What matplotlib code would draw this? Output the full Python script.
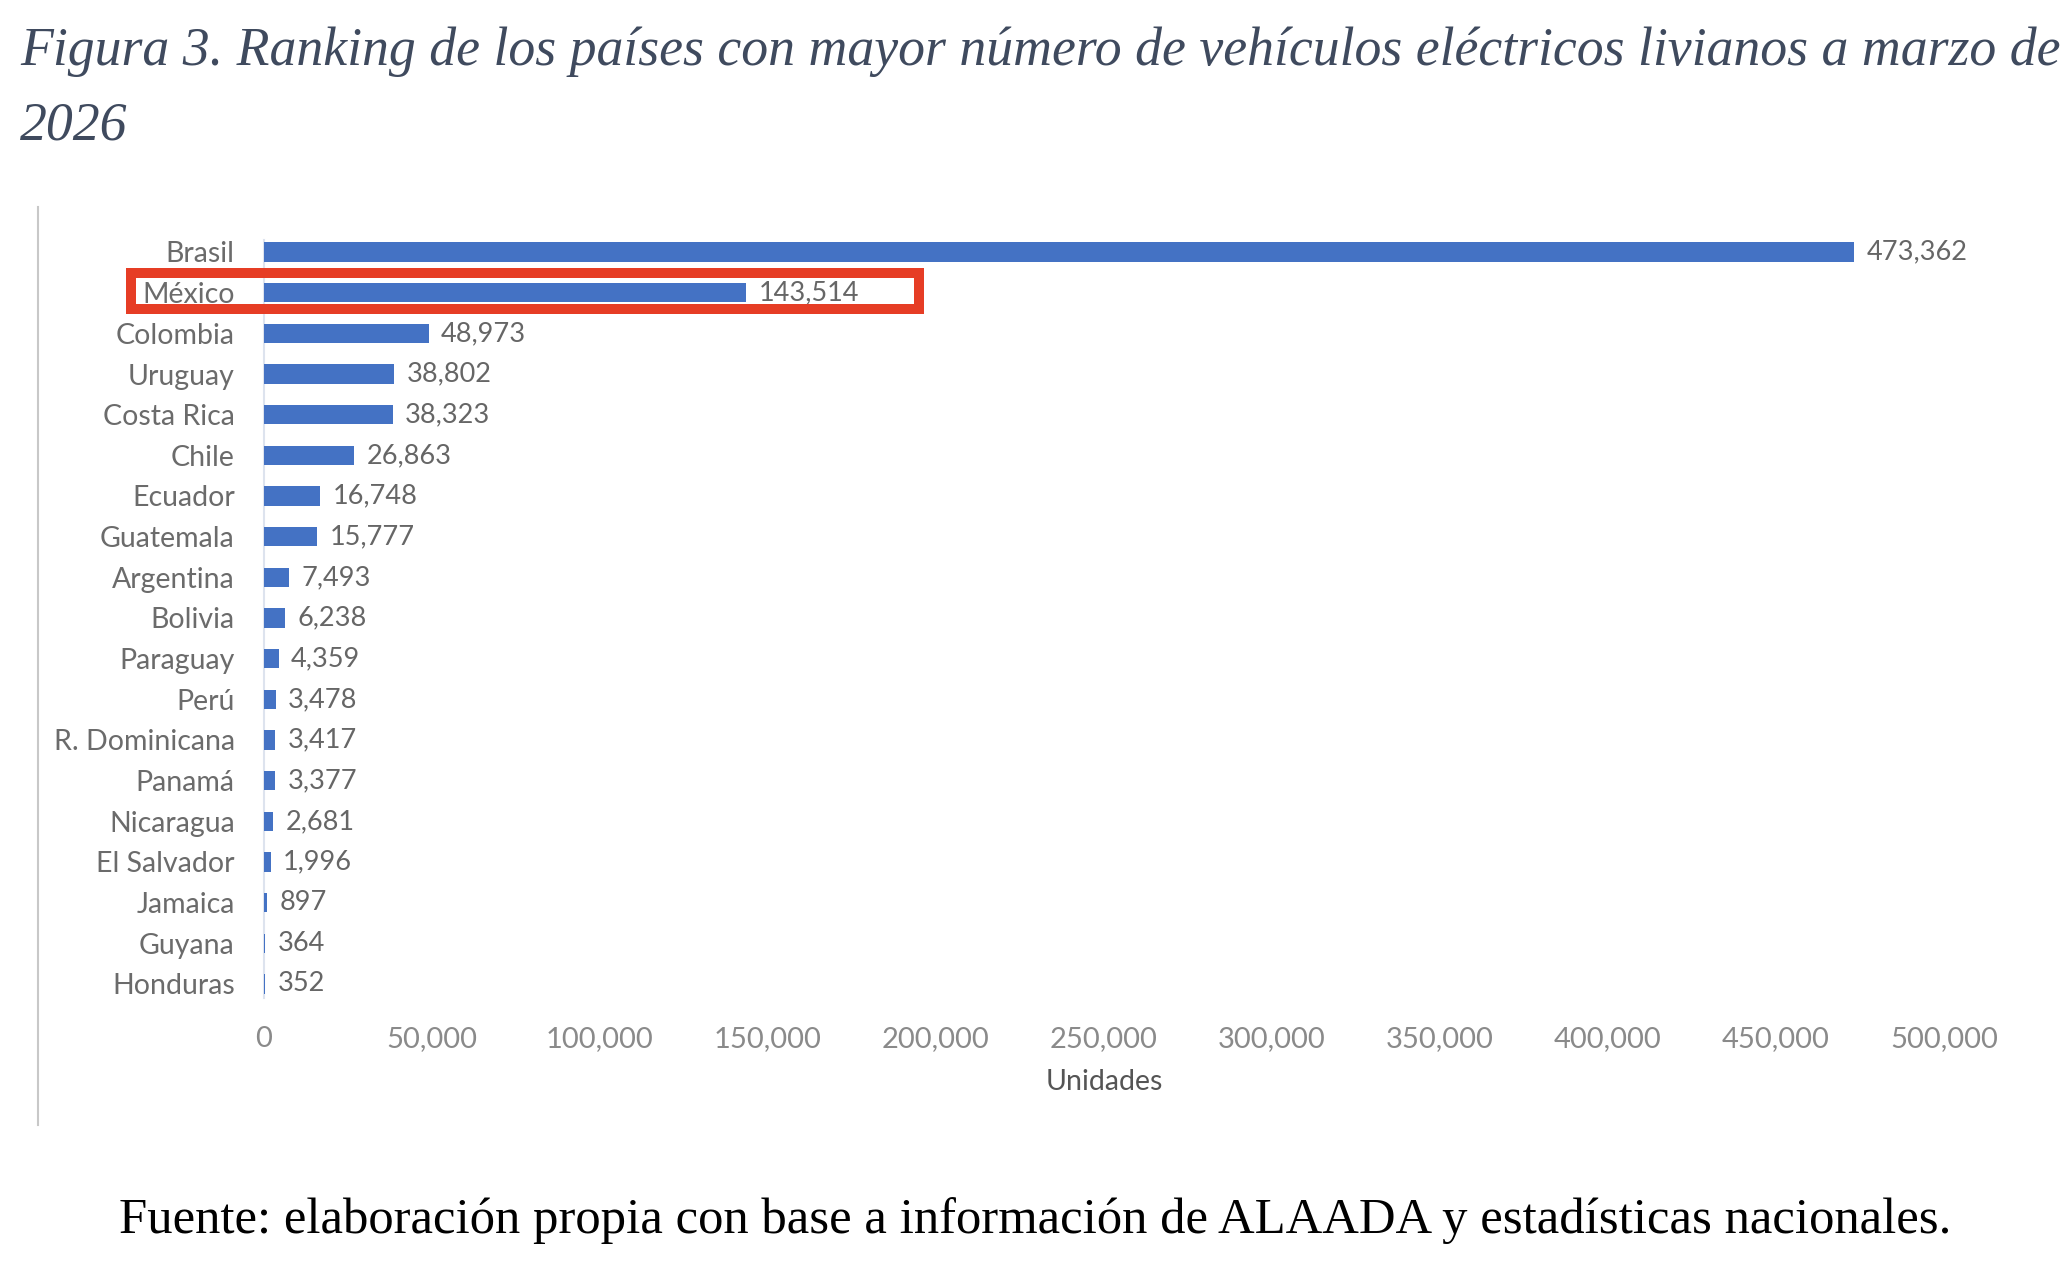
import matplotlib
matplotlib.use("Agg")
import matplotlib.pyplot as plt
from matplotlib.patches import Rectangle
from matplotlib.lines import Line2D
from matplotlib.transforms import blended_transform_factory

paises = ["Brasil", "México", "Colombia", "Uruguay", "Costa Rica", "Chile",
          "Ecuador", "Guatemala", "Argentina", "Bolivia", "Paraguay", "Perú",
          "R. Dominicana", "Panamá", "Nicaragua", "El Salvador", "Jamaica",
          "Guyana", "Honduras"]
unidades = [473362, 143514, 48973, 38802, 38323, 26863, 16748, 15777, 7493,
            6238, 4359, 3478, 3417, 3377, 2681, 1996, 897, 364, 352]
xticks = [0, 50000, 100000, 150000, 200000, 250000, 300000, 350000, 400000,
          450000, 500000]
destacado = "México"

titulo_1 = ("Figura 3. Ranking de los países con mayor número de vehículos "
            "eléctricos livianos a marzo de")
titulo_2 = "2026"
fuente = ("Fuente: elaboración propia con base a información de ALAADA y "
          "estadísticas nacionales.")

W, H = 2072, 1262
fig = plt.figure(figsize=(W / 100, H / 100), dpi=100)
fig.patch.set_facecolor("white")

# axes placed in pixel terms of the reference
top_px, bot_px = 227.6, 1008.4
ax = fig.add_axes([264 / W, 1 - bot_px / H, (1944 - 264) / W, (bot_px - top_px) / H])

sans = ["Lato", "DejaVu Sans"]

y = list(range(len(paises)))
bars = ax.barh(y, unidades, height=0.47, color="#4472C4", zorder=3)
ax.bar_label(bars, labels=[f"{v:,}" for v in unidades], padding=9,
             fontsize=19.5, color="#666666", family=sans)

ax.set_xlim(0, 500000)
ax.set_ylim(len(paises) - 0.4, -0.6)
ax.set_yticks(y)
ax.set_yticklabels(paises, family=sans, fontsize=20.5, color="#6b6b6b")
ax.set_xticks(xticks)
ax.set_xticklabels([f"{t:,}" for t in xticks], family=sans,
                   fontsize=21, color="#8a8a8a")
ax.tick_params(axis="y", length=0, pad=21)
ax.tick_params(axis="x", length=0, pad=13)

for s in ["top", "right", "bottom"]:
    ax.spines[s].set_visible(False)
ax.spines["left"].set_color("#dde3ee")
ax.spines["left"].set_linewidth(1.5)
ax.spines["left"].set_bounds(len(paises) - 0.65, -0.3)

ax.set_xlabel("Unidades", family=sans, fontsize=20.5, color="#555555")
ax.xaxis.set_label_coords(0.5, -(1082 - bot_px) / (bot_px - top_px))
ax.xaxis.label.set_va("center")

# red highlight box around México
i = paises.index(destacado)
tr = blended_transform_factory(fig.transFigure, ax.transData)
ax.add_patch(Rectangle((131 / W, i - 0.49), (919 - 131) / W, 0.9, transform=tr,
                       fill=False, edgecolor="#e63d25", linewidth=7.2,
                       clip_on=False, zorder=5))

# thin frame line on the left
fig.add_artist(Line2D([38 / W, 38 / W], [1 - 207 / H, 1 - 1125 / H],
                      color="#c8c8c8", linewidth=1.5))

# title, fitted to the reference width
r = fig.canvas.get_renderer()
t1 = fig.text(20 / W, 1 - 65 / H, titulo_1, family="Liberation Serif", style="italic",
              fontsize=40, color="#3f4a5e", va="baseline", ha="left")
w = t1.get_window_extent(r).width
t1.set_fontsize(40 * (2036 / w))
fig.text(20 / W, 1 - 140 / H, titulo_2, family="Liberation Serif", style="italic",
         fontsize=t1.get_fontsize(), color="#3f4a5e", va="baseline", ha="left")

t3 = fig.text(1035 / W, 1 - 1233 / H, fuente, family="Liberation Serif",
              fontsize=30, color="black", va="baseline", ha="center")
w = t3.get_window_extent(r).width
t3.set_fontsize(30 * (1835 / w))

fig.savefig("out.png", dpi=100, facecolor="white")
